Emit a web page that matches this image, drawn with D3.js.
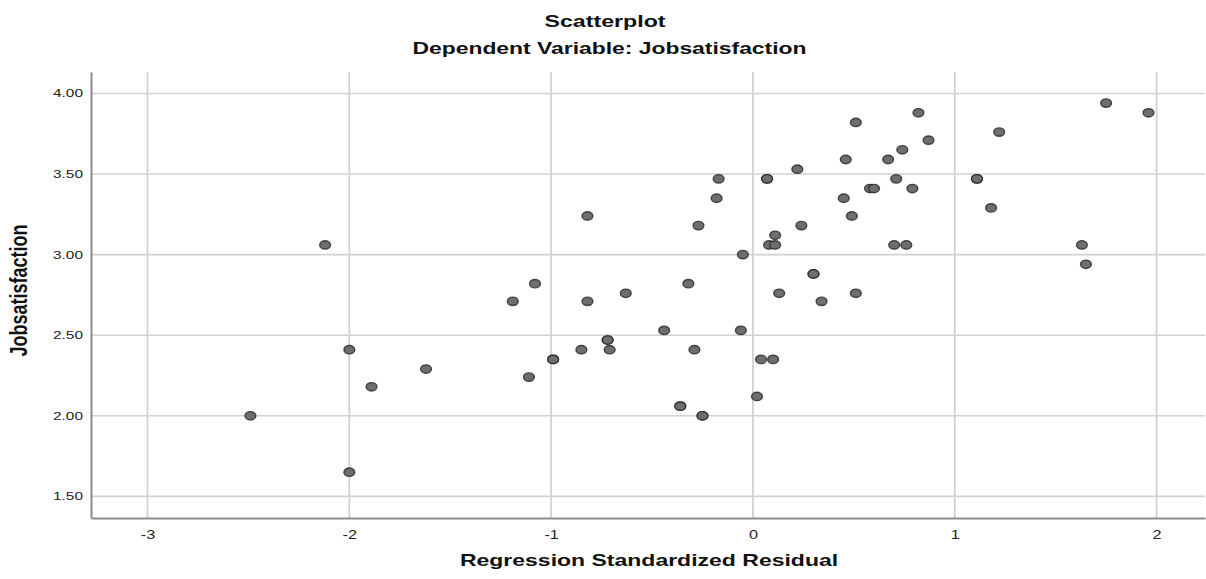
<!DOCTYPE html>
<html>
<head>
<meta charset="utf-8">
<script src="https://cdn.jsdelivr.net/npm/d3@7"></script>
<style>
  body { margin: 0; background: #fff; }
  text { font-family: "Liberation Sans", Arial, sans-serif; }
</style>
</head>
<body>
<div class="chart"></div>
<script>
// Regression standardized residual (x) and Jobsatisfaction (y)
var resid = [
  -2.49, -2.12, -2.00, -2.00, -1.89, -1.62, -1.19, -1.11, -1.08, -0.99, -0.99,
  -0.85, -0.82, -0.82, -0.72, -0.72, -0.71, -0.63, -0.44, -0.36, -0.36, -0.32,
  -0.29, -0.27, -0.25, -0.25, -0.18, -0.17, -0.06, -0.05, 0.02, 0.04, 0.07, 0.07,
  0.08, 0.10, 0.11, 0.11, 0.13, 0.22, 0.24, 0.30, 0.30, 0.34, 0.45, 0.46, 0.49,
  0.51, 0.51, 0.58, 0.60, 0.67, 0.70, 0.71, 0.74, 0.76, 0.79, 0.82, 0.87, 1.11,
  1.11, 1.18, 1.22, 1.63, 1.65, 1.75, 1.96
];
var jobsat = [
  2.00, 3.06, 2.41, 1.65, 2.18, 2.29, 2.71, 2.24, 2.82, 2.35, 2.35,
  2.41, 3.24, 2.71, 2.47, 2.47, 2.41, 2.76, 2.53, 2.06, 2.06, 2.82,
  2.41, 3.18, 2.00, 2.00, 3.35, 3.47, 2.53, 3.00, 2.12, 2.35, 3.47, 3.47,
  3.06, 2.35, 3.12, 3.06, 2.76, 3.53, 3.18, 2.88, 2.88, 2.71, 3.35, 3.59, 3.24,
  3.82, 2.76, 3.41, 3.41, 3.59, 3.06, 3.47, 3.65, 3.06, 3.41, 3.88, 3.71, 3.47,
  3.47, 3.29, 3.76, 3.06, 2.94, 3.94, 3.88
];
var xTicks = [-3, -2, -1, 0, 1, 2];
var yTicks = [1.5, 2.0, 2.5, 3.0, 3.5, 4.0];

var W = 1206, H = 579;
var margin = { top: 72, right: 1, bottom: 61, left: 91 };
var width = W - margin.left - margin.right;
var height = H - margin.top - margin.bottom;

var svg = d3.select('.chart')
  .append('svg')
    .attr('width', W)
    .attr('height', H);

var g = svg.append('g')
    .attr('transform', 'translate(' + margin.left + ',' + margin.top + ')');

var xScale = d3.scaleLinear().domain([-3.28, 2.24]).range([0, width]);
var yScale = d3.scaleLinear().domain([1.366, 4.133]).range([height, 0]);

// the source picture is stretched sideways, so text gets a horizontal scale
function wideText(parent, x, y, sx, txt, size, weight) {
  return parent.append('text')
    .attr('transform', 'translate(' + x + ',' + y + ') scale(' + sx + ',1)')
    .attr('text-anchor', 'middle')
    .style('font-size', size + 'px')
    .style('font-weight', weight)
    .attr('fill', '#111')
    .text(txt);
}

// grid lines
g.selectAll('.vgrid')
  .data(xTicks)
  .enter().append('line')
    .attr('x1', d => xScale(d)).attr('x2', d => xScale(d))
    .attr('y1', 0).attr('y2', height)
    .attr('stroke', '#d2d2d2').attr('stroke-width', 1.8);

g.selectAll('.hgrid')
  .data(yTicks)
  .enter().append('line')
    .attr('x1', 0).attr('x2', width)
    .attr('y1', d => yScale(d)).attr('y2', d => yScale(d))
    .attr('stroke', '#d2d2d2').attr('stroke-width', 1.6);

// axes
var xAxis = d3.axisBottom(xScale).tickValues(xTicks).tickSize(0).tickPadding(10)
  .tickFormat(d => String(d));
var yAxis = d3.axisLeft(yScale).tickValues(yTicks).tickSize(0)
  .tickFormat(d3.format('.2f'));

g.append('g')
  .attr('transform', 'translate(0,' + height + ')')
  .call(xAxis)
  .call(a => a.select('.domain').attr('stroke', '#8c8c8c').attr('stroke-width', 2))
  .selectAll('text')
    .attr('y', 0).attr('dy', 0)
    .attr('transform', 'translate(0,21) scale(1.3,1)')
    .attr('fill', '#222').style('font-size', '12.5px');

g.append('g')
  .call(yAxis)
  .call(a => a.select('.domain').attr('stroke', '#8c8c8c').attr('stroke-width', 2))
  .selectAll('text')
    .attr('x', 0)
    .attr('transform', 'translate(-8,0) scale(1.4,1)')
    .attr('fill', '#222').style('font-size', '11px');

// points
var pts = resid.map((r, i) => ({ x: r, y: jobsat[i] }));
g.selectAll('.ball')
  .data(pts)
  .enter().append('ellipse')
    .attr('class', 'ball')
    .attr('cx', d => xScale(d.x))
    .attr('cy', d => yScale(d.y))
    .attr('rx', 5.4)
    .attr('ry', 4.2)
    .attr('fill', '#6e6e6e')
    .attr('stroke', '#262626')
    .attr('stroke-opacity', 0.8)
    .attr('stroke-width', 1.4);

// titles
wideText(svg, 605, 27, 1.45, 'Scatterplot', 16, 'bold');
wideText(svg, 609.5, 54, 1.43, 'Dependent Variable: Jobsatisfaction', 16, 'bold');

// axis labels
wideText(svg, margin.left + width / 2 + 1, 566, 1.33, 'Regression Standardized Residual', 17.3, 'bold');

svg.append('text')
  .attr('transform', 'translate(27,' + 290.5 + ') rotate(-90) scale(1,1.3)')
  .attr('text-anchor', 'middle')
  .attr('fill', '#111')
  .style('font-size', '18px').style('font-weight', 'bold')
  .text('Jobsatisfaction');
</script>
</body>
</html>
